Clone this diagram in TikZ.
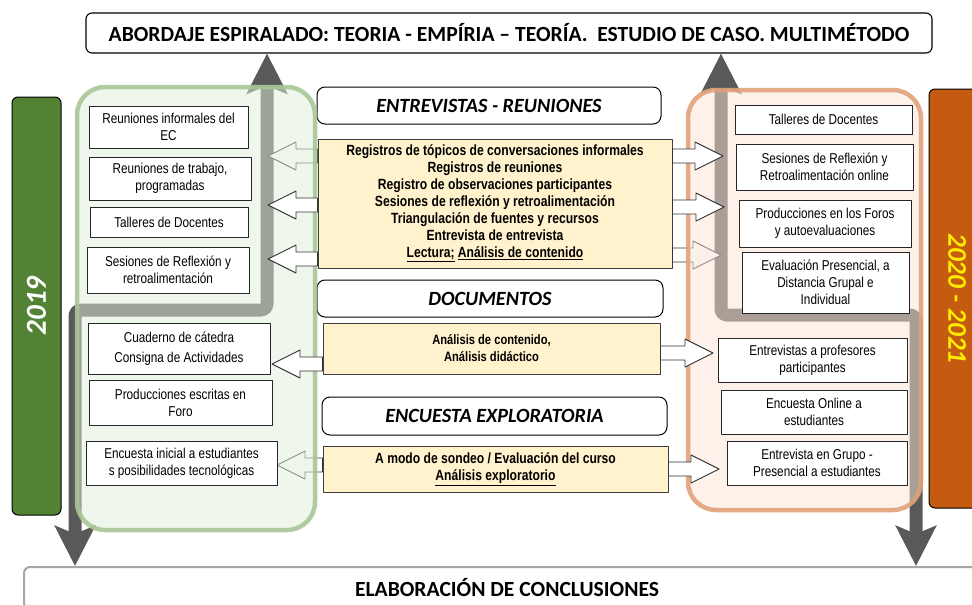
\documentclass[tikz,border=0pt]{standalone}
\usepackage{fontspec}
\setmainfont{Carlito}
\newfontfamily\narrowfont[FakeStretch=0.82]{Liberation Sans}
\usetikzlibrary{arrows.meta,calc}

\definecolor{barGreen}{RGB}{84,130,53}
\definecolor{barOrange}{RGB}{197,90,17}
\definecolor{yearYellow}{RGB}{255,235,0}
\definecolor{regionGreen}{RGB}{223,238,215}
\definecolor{regionGreenLine}{RGB}{169,198,151}
\definecolor{regionOrange}{RGB}{251,228,214}
\definecolor{regionOrangeLine}{RGB}{226,161,122}
\definecolor{methodYellow}{RGB}{255,242,204}
\definecolor{flowGray}{RGB}{89,89,89}

\begin{document}
\begin{tikzpicture}[
    x=1pt, y=-1pt,
    line join=round,
    title box/.style={draw=black, fill=white, rounded corners=6pt, line width=1.1pt, inner sep=0pt,
        font=\bfseries\fontsize{21.6}{22}\selectfont},
    bottom box/.style={draw=black!35, fill=white, rounded corners=6pt, line width=2pt, inner sep=0pt,
        font=\bfseries\fontsize{21.6}{22}\selectfont},
    header box/.style={draw=black, fill=white, rounded corners=8pt, line width=1pt, inner sep=0pt,
        font=\bfseries\itshape\fontsize{20.2}{22}\selectfont},
    method box/.style={draw=black!75, fill=methodYellow, line width=1pt, align=center, inner sep=0pt,
        font=\narrowfont\bfseries\fontsize{14.8}{17}\selectfont},
    info box/.style={draw=black!85, fill=white, line width=1pt, align=center, inner sep=0pt,
        font=\narrowfont\fontsize{14.3}{17}\selectfont},
    year bar/.style={draw=black, rounded corners=6pt, line width=1pt, inner sep=0pt,
        font=\bfseries\itshape\fontsize{27}{29}\selectfont},
    region/.style={rounded corners=28pt, line width=4.5pt, fill opacity=0.5, draw opacity=0.9, inner sep=0pt},
    flow arrow/.style={draw=flowGray, line width=13pt, rounded corners=6pt,
        arrows={Stealth[length=40pt,width=40pt,inset=8pt]-Stealth[length=40pt,width=40pt,inset=8pt]}},
    block arrow/.style={draw=black!80, fill=white, line width=0.9pt,
        to path={let \p1=(\tikztostart), \p2=(\tikztotarget),
            \p3=($(\tikztotarget)!28pt!(\tikztostart)$) in
            (\x1,\y1+7pt) -- (\x3,\y1+7pt) -- (\x3,\y1+14pt) -- (\x2,\y2)
            -- (\x3,\y1-14pt) -- (\x3,\y1-7pt) -- (\x1,\y1-7pt) -- cycle}},
]
  \useasboundingbox (0,0) rectangle (972,605);

  \node[title box, minimum width=846pt, minimum height=40pt] (title) at (509,33)
    {ABORDAJE ESPIRALADO: TEORIA - EMPÍRIA – TEORÍA.\ \ ESTUDIO DE CASO. MULTIMÉTODO};
  \node[bottom box, minimum width=966pt, minimum height=42pt] (concl) at (507,588)
    {ELABORACIÓN DE CONCLUSIONES};

  \node[header box, minimum width=344pt, minimum height=37pt] (hdrInt) at (489,105.5) {ENTREVISTAS - REUNIONES};
  \node[header box, minimum width=346pt, minimum height=37pt] (hdrDoc) at (490,298.5) {DOCUMENTOS};
  \node[header box, minimum width=345pt, minimum height=38pt] (hdrEnc) at (494.5,416) {ENCUESTA EXPLORATORIA};

  \node[method box, minimum width=354pt, minimum height=129pt] (metInt) at (495,203.5)
    {Registros de tópicos de conversaciones informales\\Registros de reuniones\\
     Registro de observaciones participantes\\Sesiones de reflexión y retroalimentación\\
     Triangulación de fuentes y recursos\\Entrevista de entrevista\\
     \underline{Lectura;} \underline{Análisis de contenido}};
  \node[method box, minimum width=337pt, minimum height=51pt, font=\narrowfont\bfseries\fontsize{13.6}{17}\selectfont]
    (metDoc) at (491.5,348.5) {Análisis de contenido,\\Análisis didáctico};
  \node[method box, minimum width=345pt, minimum height=46pt] (metEnc) at (495.5,469)
    {A modo de sondeo / Evaluación del curso\\\underline{Análisis exploratorio}};

  \draw[flow arrow] (75,0 |- concl.north) -- (75,310) -- (267,310) -- (267,0 |- title.south);
  \draw[flow arrow] (916,0 |- concl.north) -- (916,315) -- (721,315) -- (721,0 |- title.south);

  \coordinate (tipA1) at (268,156);
  \coordinate (tipA2) at (268,205);
  \coordinate (tipA3) at (268,259);
  \coordinate (tipA4) at (272,364);
  \coordinate (tipA5) at (277,465);
  \coordinate (tipB1) at (723,156);
  \coordinate (tipB2) at (724,207);
  \coordinate (tipB3) at (721,255);
  \coordinate (tipB4) at (713,353);
  \coordinate (tipB5) at (719,469);

  % these three lie under the shaded areas
  \draw[block arrow] (metInt.west |- tipA1) to (tipA1);
  \draw[block arrow] (metEnc.west |- tipA5) to (tipA5);
  \draw[block arrow] (metInt.east |- tipB3) to (tipB3);

  \node[region, draw=regionGreenLine, fill=regionGreen, minimum width=238pt, minimum height=443pt] (early) at (196,308.5) {};
  \node[region, draw=regionOrangeLine, fill=regionOrange, minimum width=233pt, minimum height=420pt] (late) at (804.5,300) {};

  \node[year bar, fill=barGreen, text=white, minimum width=49pt, minimum height=418pt,
    font=\bfseries\itshape\fontsize{29}{30}\selectfont] (y2019) at (36.5,306) {\rotatebox{90}{2019}};
  \node[year bar, fill=barOrange, text=yearYellow, minimum width=56pt, minimum height=419pt] (y2020) at (957,298.5)
    {\rotatebox{-90}{2020 - 2021}};

  \node[info box, minimum width=159pt, minimum height=42pt] (srcEC) at (168.5,127) {Reuniones informales del\\EC};
  \node[info box, minimum width=162pt, minimum height=43pt] (srcTrab) at (170,178.5) {Reuniones de trabajo,\\programadas};
  \node[info box, minimum width=158pt, minimum height=30pt] (srcTall) at (169,222) {Talleres de Docentes};
  \node[info box, minimum width=162pt, minimum height=46pt] (srcSes) at (168,270) {Sesiones de Reflexión y\\retroalimentación};
  \node[info box, minimum width=182pt, minimum height=51pt] (srcCuad) at (179,348.5) {Cuaderno de cátedra\\[3pt]Consigna de Actividades};
  \node[info box, minimum width=183pt, minimum height=45pt] (srcForo) at (180.5,402.5) {Producciones escritas en\\Foro};
  \node[info box, minimum width=191pt, minimum height=44pt] (srcEnc) at (181.5,463) {Encuesta inicial a estudiantes\\s posibilidades tecnológicas};

  \node[info box, minimum width=177pt, minimum height=29pt] (dstTall) at (823.5,119.5) {Talleres de Docentes};
  \node[info box, minimum width=177pt, minimum height=46pt] (dstSes) at (824.5,167) {Sesiones de Reflexión y\\Retroalimentación online};
  \node[info box, minimum width=172pt, minimum height=47pt] (dstForos) at (825,223.5) {Producciones en los Foros\\y autoevaluaciones};
  \node[info box, minimum width=167pt, minimum height=61pt] (dstEval) at (825.5,282.5) {Evaluación Presencial, a\\Distancia Grupal e\\Individual};
  \node[info box, minimum width=189pt, minimum height=44pt] (dstProf) at (812.5,360) {Entrevistas a profesores\\participantes};
  \node[info box, minimum width=186pt, minimum height=44pt] (dstOnline) at (814,412) {Encuesta Online a\\estudiantes};
  \node[info box, minimum width=180pt, minimum height=44pt] (dstGrupo) at (817,463) {Entrevista en Grupo -\\Presencial a estudiantes};

  \draw[block arrow] (metInt.west |- tipA2) to (tipA2);
  \draw[block arrow] (metInt.west |- tipA3) to (tipA3);
  \draw[block arrow] (metDoc.west |- tipA4) to (tipA4);
  \draw[block arrow] (metInt.east |- tipB1) to (tipB1);
  \draw[block arrow] (metInt.east |- tipB2) to (tipB2);
  \draw[block arrow] (metDoc.east |- tipB4) to (tipB4);
  \draw[block arrow] (metEnc.east |- tipB5) to (tipB5);

\end{tikzpicture}
\end{document}
